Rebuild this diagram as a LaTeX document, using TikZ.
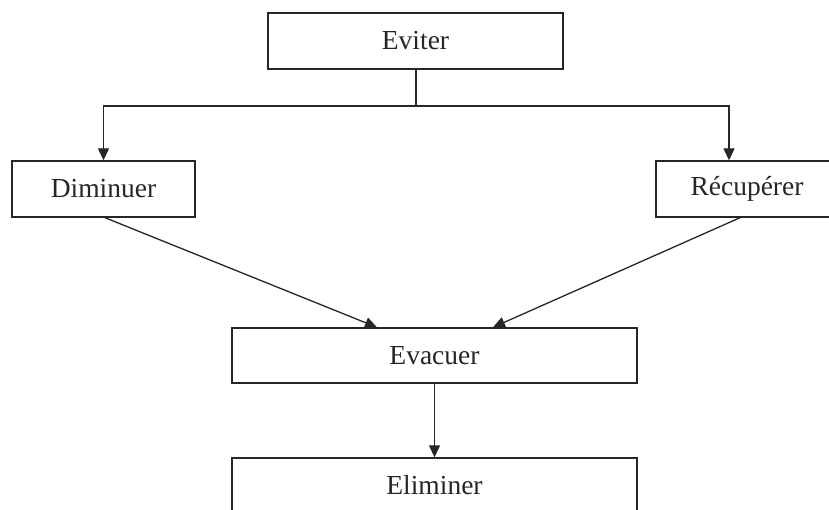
\documentclass[tikz,border=0pt]{standalone}
\usepackage{fontspec}
\setmainfont{Liberation Serif}
\usetikzlibrary{arrows.meta}
\begin{document}
\begin{tikzpicture}[x=1pt,y=-1pt,
  box/.style={draw=black!85, line width=1.4pt, minimum height=56pt, inner sep=0pt,
    font=\fontsize{27.5}{32}\selectfont, text=black!85},
  conn/.style={draw=black!85, line width=1.3pt},
  arr/.style={conn, -{Triangle[length=12pt,width=11pt]}}]
\useasboundingbox (0,0) rectangle (829,509);
\clip (0,0) rectangle (829,509);
\fill[white] (0,0) rectangle (829,509);
\node[box, minimum width=295pt] (ev) at (415.5,41) {Eviter};
\node[box, minimum width=183pt] (dim) at (103.5,189) {Diminuer};
\node[box, minimum width=182pt] (rec) at (747,189) {Récupérer};
\node[box, minimum width=405pt, minimum height=55pt] (evac) at (434.5,355.5) {Evacuer};
\node[box, minimum width=405pt, minimum height=55pt] (elim) at (434.5,485.5) {Eliminer};
\coordinate (j) at (416,106);
\draw[conn] (ev.south -| j) -- (j);
\draw[arr] (j) -| (dim.north);
\draw[arr] (j) -| ([xshift=-18pt]rec.north);
\draw[arr] ([xshift=1.5pt]dim.south) -- ([xshift=-57.5pt]evac.north);
\draw[arr] ([xshift=-7pt]rec.south) -- ([xshift=58.5pt]evac.north);
\draw[arr] (evac.south) -- (elim.north);
\end{tikzpicture}
\end{document}
